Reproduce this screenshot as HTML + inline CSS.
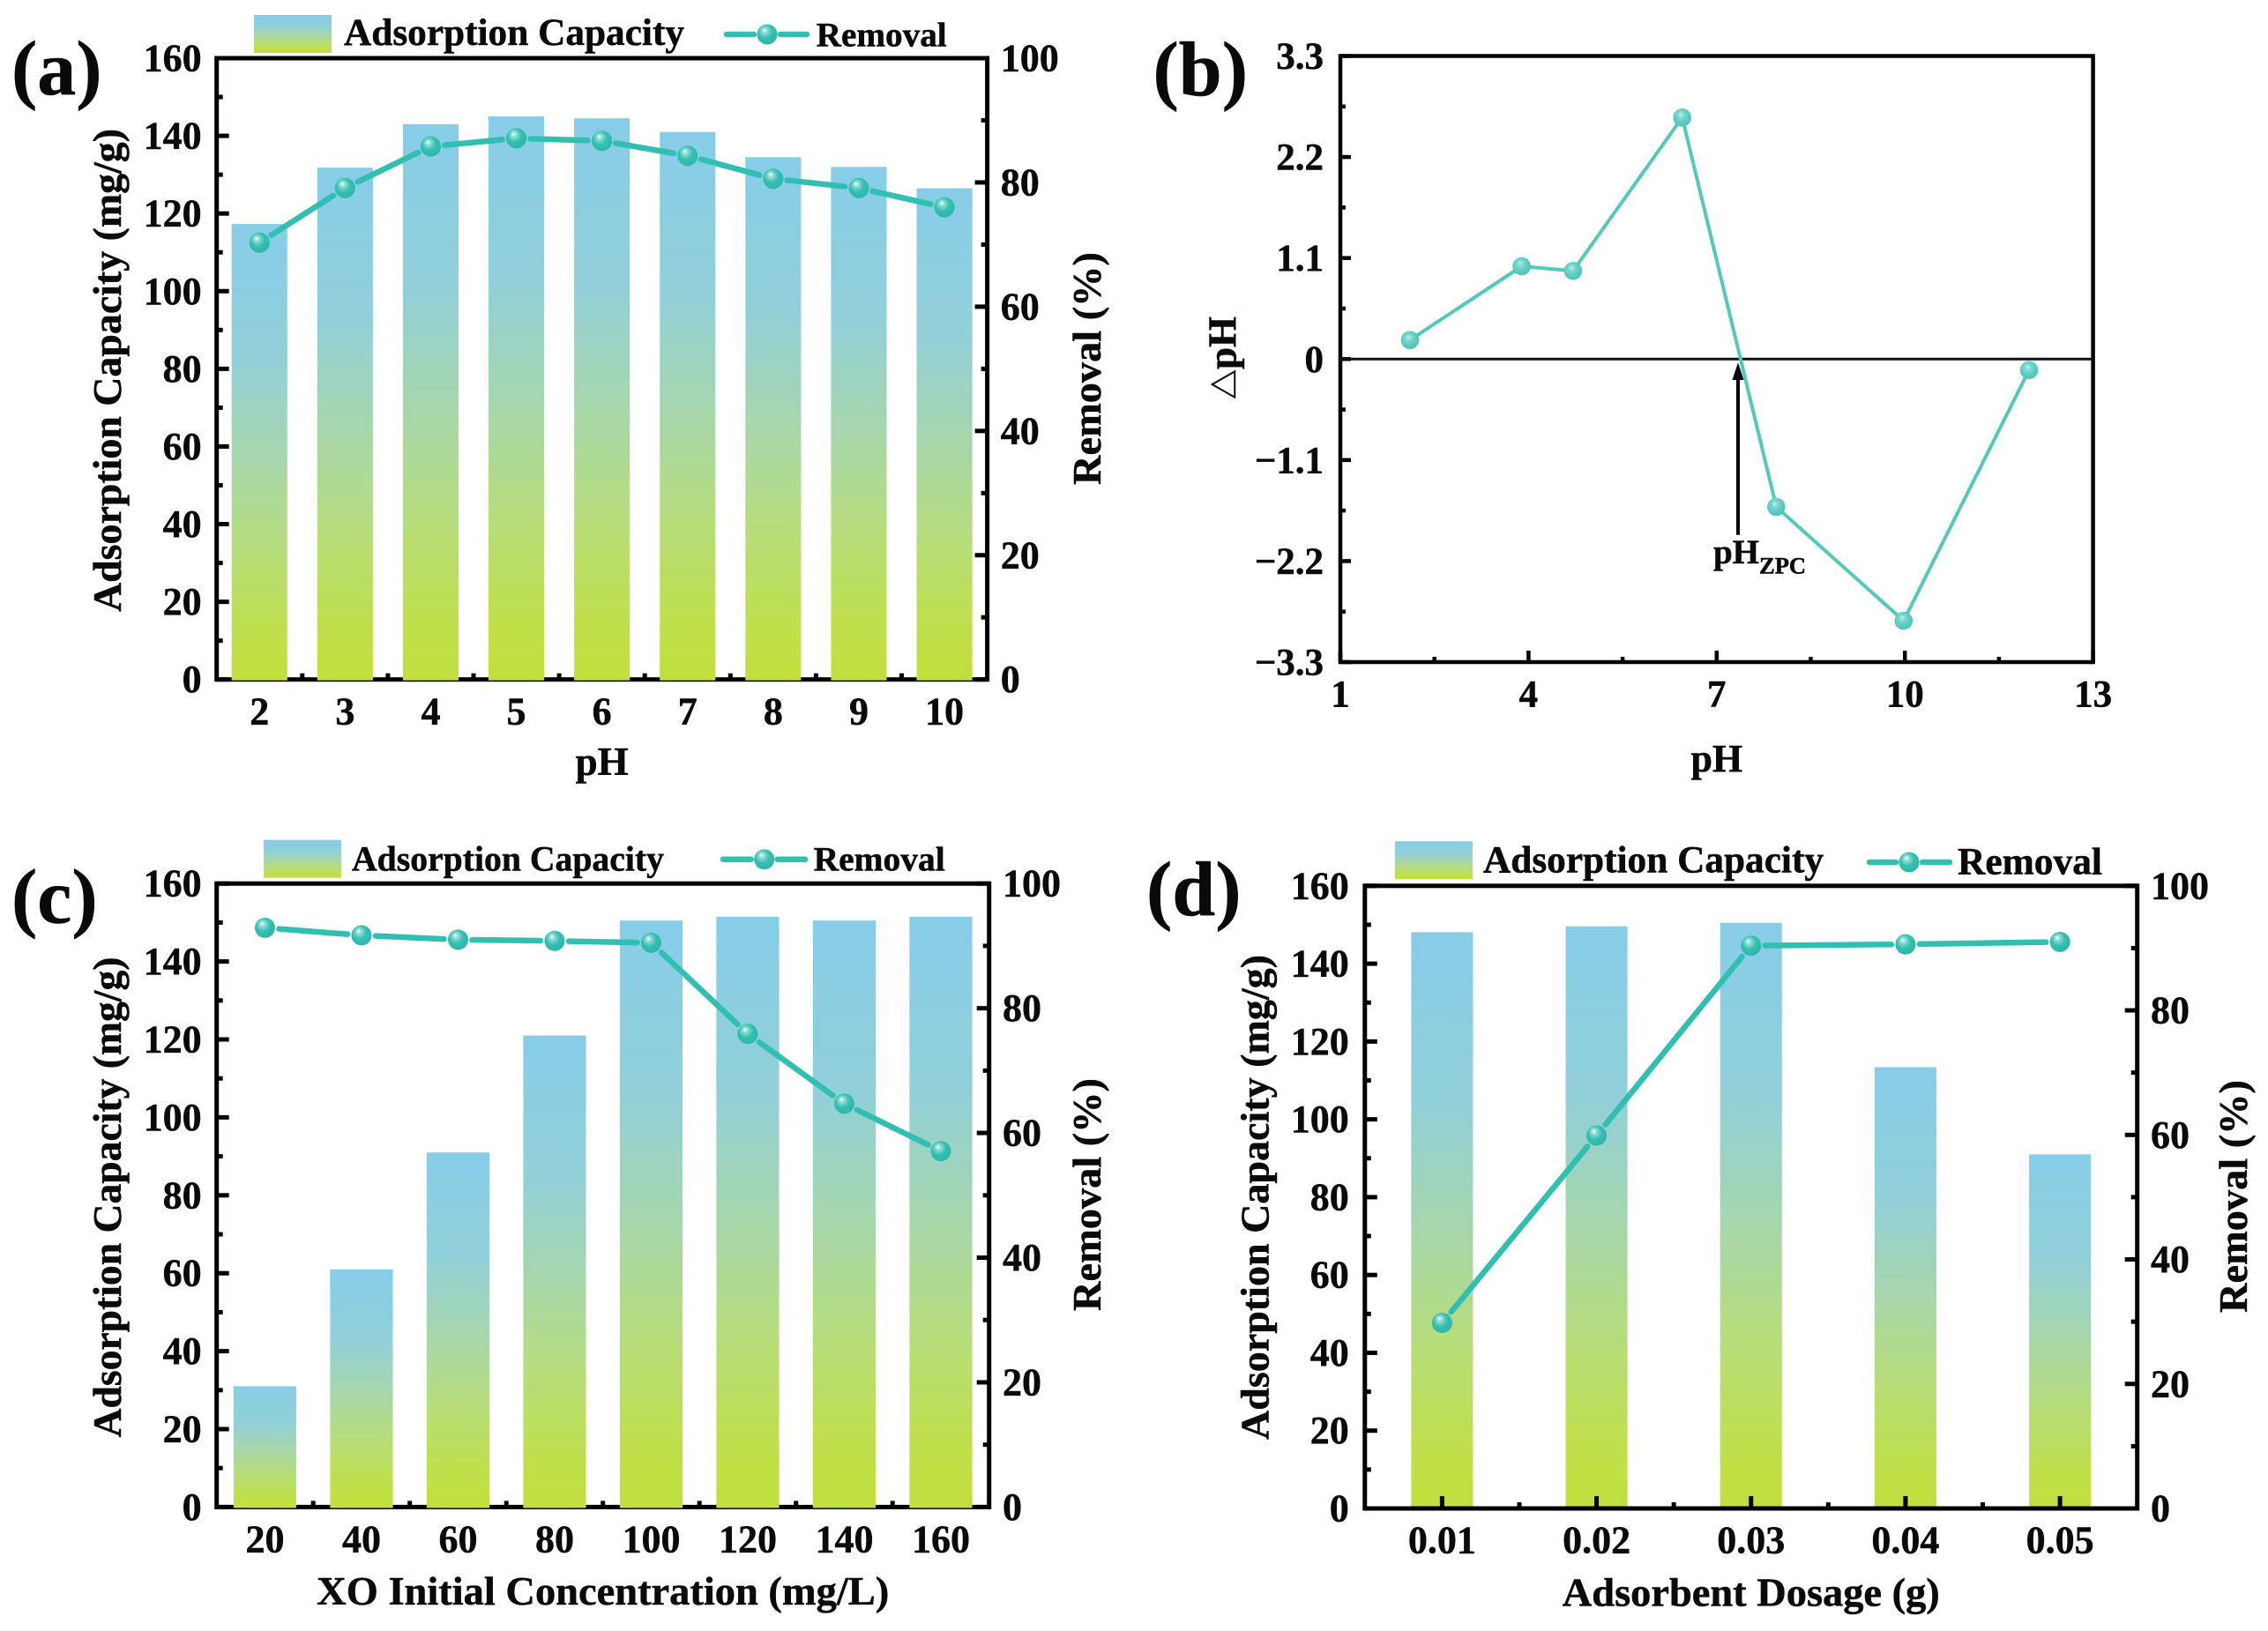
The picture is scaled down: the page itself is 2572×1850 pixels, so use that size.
<!DOCTYPE html>
<html lang="en">
<head>
<meta charset="utf-8">
<title>Adsorption performance panels</title>
<style>
html,body{margin:0;padding:0;background:#fff;}
svg{display:block;}
text{font-family:"Liberation Serif","Noto Sans CJK SC",serif;font-weight:bold;fill:#0a0a0a;stroke:#0a0a0a;stroke-width:0.5px;}
</style>
</head>
<body>
<svg id="figure" xmlns="http://www.w3.org/2000/svg" width="2572" height="1850" viewBox="0 0 2572 1850">
  <defs>
    <linearGradient id="barGrad" x1="0" y1="0" x2="0" y2="1">
      <stop offset="0" stop-color="#87cde9"/>
      <stop offset="0.3" stop-color="#92d0d8"/>
      <stop offset="0.5" stop-color="#a5d6ae"/>
      <stop offset="0.7" stop-color="#b6dd7e"/>
      <stop offset="0.9" stop-color="#bfe04a"/>
      <stop offset="1" stop-color="#c1e03c"/>
    </linearGradient>
    <radialGradient id="ball" cx="0.45" cy="0.42" r="0.62" fx="0.36" fy="0.28">
      <stop offset="0" stop-color="#f4fcfc"/>
      <stop offset="0.22" stop-color="#8adcd3"/>
      <stop offset="0.55" stop-color="#33c0b1"/>
      <stop offset="1" stop-color="#2bb5a8"/>
    </radialGradient>
    <radialGradient id="ballLight" cx="0.45" cy="0.42" r="0.62" fx="0.42" fy="0.32">
      <stop offset="0" stop-color="#c4efe9"/>
      <stop offset="0.3" stop-color="#79d8cd"/>
      <stop offset="0.7" stop-color="#57cabd"/>
      <stop offset="1" stop-color="#4fc4b7"/>
    </radialGradient>
  </defs>
</svg>
<script>
// ---------- shared axis ticks ----------
const capacityTicks = [0, 20, 40, 60, 80, 100, 120, 140, 160];
const removalTicks = [0, 20, 40, 60, 80, 100];

// ---------- panel (a) ----------
const aCategories = ['2', '3', '4', '5', '6', '7', '8', '9', '10'];
const aCapacity = [117.3, 131.8, 143, 145, 144.5, 141, 134.5, 132, 126.5];
const aRemoval = [70.3, 79.1, 85.8, 87.1, 86.7, 84.3, 80.6, 79.1, 76];

// ---------- panel (b) ----------
const bPh = [2.11, 3.89, 4.71, 6.45, 7.95, 9.98, 11.98];
const bDelta = [0.207, 1.01, 0.96, 2.63, -1.61, -2.85, -0.12];
const bXTicks = [1, 4, 7, 10, 13];
const bXLabels = ['1', '4', '7', '10', '13'];
const bYTicks = [3.3, 2.2, 1.1, 0, -1.1, -2.2, -3.3];
const bYLabels = ['3.3', '2.2', '1.1', '0', '\u22121.1', '\u22122.2', '\u22123.3'];
const bZeroChargePh = 7.34;

// ---------- panel (c) ----------
const cCategories = ['20', '40', '60', '80', '100', '120', '140', '160'];
const cCapacity = [31, 61, 91, 121, 150.5, 151.5, 150.5, 151.5];
const cRemoval = [92.9, 91.7, 91, 90.8, 90.5, 75.9, 64.7, 57.1];

// ---------- panel (d) ----------
const dCategories = ['0.01', '0.02', '0.03', '0.04', '0.05'];
const dCapacity = [148.1, 149.6, 150.5, 113.4, 91];
const dRemoval = [29.8, 59.9, 90.4, 90.6, 91];

const NS = 'http://www.w3.org/2000/svg';
const root = document.getElementById('figure');

function make(parent, tag, attrs, content) {
  const el = document.createElementNS(NS, tag);
  for (const k in attrs) el.setAttribute(k, attrs[k]);
  if (content !== undefined) el.textContent = content;
  parent.appendChild(el);
  return el;
}
function textAt(parent, x, y, str, size, anchor, len) {
  const a = { x: x, y: y, 'font-size': size, 'text-anchor': anchor || 'middle' };
  if (len) { a.textLength = len; a.lengthAdjust = 'spacingAndGlyphs'; }
  return make(parent, 'text', a, str);
}
function rotatedText(parent, x, y, str, size, len) {
  const el = textAt(parent, x, y, str, size, 'middle', len);
  el.setAttribute('transform', 'rotate(-90 ' + x + ' ' + y + ')');
  return el;
}
function lineSeg(parent, x1, y1, x2, y2, w, color, cap) {
  return make(parent, 'line', { x1: x1, y1: y1, x2: x2, y2: y2, stroke: color || '#000', 'stroke-width': w, 'stroke-linecap': cap || 'butt' });
}

function drawAxes(g, L, T, R, B, cfg, yCap, yRem, xCenter, n) {
  const frame = make(g, 'rect', { x: L, y: T, width: R - L, height: B - T, fill: 'none', stroke: '#000', 'stroke-width': 5 });
  
  
  capacityTicks.forEach(function (v, i) {
    const y = yCap(v);
    const t = lineSeg(g, L, y, L + 14, y, 5);
    
    
    if (i < capacityTicks.length - 1) {
      const my = yCap((v + capacityTicks[i + 1]) / 2);
      const m = lineSeg(g, L, my, L + 7, my, 5);
      
      
    }
  });
  removalTicks.forEach(function (v, i) {
    const y = yRem(v);
    const t = lineSeg(g, R, y, R - 14, y, 5);
    
    
    if (i < removalTicks.length - 1) {
      const my = yRem((v + removalTicks[i + 1]) / 2);
      const m = lineSeg(g, R, my, R - 7, my, 5);
      
      
    }
  });
  for (let i = 0; i < n; i++) {
    const t = lineSeg(g, xCenter(i), B, xCenter(i), B - 14, 5);
    
    
    if (i < n - 1) {
      const mx = xCenter(i + 0.5);
      const m = lineSeg(g, mx, B, mx, B - 7, 5);
      
      
    }
  }
}

function drawCombo(cfg, categories, capacity, removal) {
  const L = cfg.L, R = cfg.R, T = cfg.T, B = cfg.B;
  const band = (R - L) / categories.length;
  const xCenter = function (i) { return L + band * (i + 0.5); };
  const yCap = function (v) { return B - v / 160 * (B - T); };
  const yRem = function (v) { return B - v / 100 * (B - T); };
  const g = make(root, 'g', {});
  
  

  const label = textAt(g, cfg.labelX, cfg.labelY, '(' + cfg.id + ')', 88, 'start');
  
  

  if (!cfg.axesOnTop) drawAxes(g, L, T, R, B, cfg, yCap, yRem, xCenter, categories.length);

  const barW = band * cfg.barFrac;
  capacity.forEach(function (v, i) {
    const bar = make(g, 'rect', { x: xCenter(i) - barW / 2, y: yCap(v), width: barW, height: yCap(0) - yCap(v) + 1, fill: 'url(#barGrad)' });
    
    
  });

  if (cfg.axesOnTop) drawAxes(g, L, T, R, B, cfg, yCap, yRem, xCenter, categories.length);

  const gap = 16;
  for (let i = 0; i < removal.length - 1; i++) {
    const x1 = xCenter(i), y1 = yRem(removal[i]), x2 = xCenter(i + 1), y2 = yRem(removal[i + 1]);
    const d = Math.hypot(x2 - x1, y2 - y1);
    const ux = (x2 - x1) / d, uy = (y2 - y1) / d;
    const seg = lineSeg(g, x1 + ux * gap, y1 + uy * gap, x2 - ux * gap, y2 - uy * gap, 6.5, '#30bfb0', 'round');
    
    
  }
  removal.forEach(function (v, i) {
    const p = make(g, 'circle', { cx: xCenter(i), cy: yRem(v), r: 11.5, fill: 'url(#ball)' });
    
    
  });

  capacityTicks.forEach(function (v) {
    const t = textAt(g, cfg.leftLabelX, yCap(v) + 14.5, String(v), 44, 'end');
    
    
  });
  removalTicks.forEach(function (v) {
    const t = textAt(g, cfg.rightLabelX, yRem(v) + 14.5, String(v), 44, 'start');
    
    
  });
  categories.forEach(function (c, i) {
    const t = textAt(g, xCenter(i), cfg.xLabelY, c, 44, 'middle');
    
    
  });

  const xt = textAt(g, (L + R) / 2, cfg.xTitleY, cfg.xTitle, 45, 'middle', cfg.xTitleLen);
  
  
  const ct = rotatedText(g, cfg.capTitleX, cfg.capTitleY, 'Adsorption Capacity (mg/g)', 45, cfg.capTitleLen);
  
  
  const rt = rotatedText(g, cfg.remTitleX, cfg.remTitleY, 'Removal (%)', 45, 264);
  
  

  const lg = cfg.legend;
  const lgG = make(g, 'g', {});
  
  
  const sw = make(lgG, 'rect', { x: lg.sx, y: lg.sy, width: 88, height: 43, fill: 'url(#barGrad)' });
  
  
  const st = textAt(lgG, lg.tx, lg.ty, 'Adsorption Capacity', lg.tSize, 'start', lg.tLen);
  
  
  const l1 = lineSeg(lgG, lg.lx1, lg.ly, lg.mx - 15, lg.ly, 6.5, '#30bfb0', 'round');
  
  
  const l2 = lineSeg(lgG, lg.mx + 15, lg.ly, lg.lx2, lg.ly, 6.5, '#30bfb0', 'round');
  
  
  const lm = make(lgG, 'circle', { cx: lg.mx, cy: lg.ly, r: 11.5, fill: 'url(#ball)' });
  
  
  const rl = textAt(lgG, lg.rx, lg.ry, 'Removal', lg.rSize, 'start', lg.rLen);
  
  
}

function drawPanelB() {
  const L = 1520, R = 2373.6, T = 63.5, B = 751;
  const x = function (v) { return L + (v - 1) / 12 * (R - L); };
  const y = function (v) { return T + (3.3 - v) / 6.6 * (B - T); };
  const g = make(root, 'g', {});
  
  

  const label = textAt(g, 1307.5, 108, '(b)', 88, 'start');
  
  

  const frame = make(g, 'rect', { x: L, y: T, width: R - L, height: B - T, fill: 'none', stroke: '#000', 'stroke-width': 4.5 });
  
  

  bYTicks.forEach(function (v, i) {
    const t = lineSeg(g, L, y(v), L + 12, y(v), 4.5);
    
    
    const lab = textAt(g, 1501, y(v) + 14.5, bYLabels[i], 43, 'end');
    
    
    if (i < bYTicks.length - 1) {
      const mv = (v + bYTicks[i + 1]) / 2;
      const m = lineSeg(g, L, y(mv), L + 6, y(mv), 4.5);
      
      
    }
  });
  bXTicks.forEach(function (v, i) {
    const t = lineSeg(g, x(v), B, x(v), B - 13, 4.5);
    
    
    const lab = textAt(g, x(v), 801.7, bXLabels[i], 43, 'middle');
    
    
    if (i < bXTicks.length - 1) {
      const mv = (v + bXTicks[i + 1]) / 2;
      const m = lineSeg(g, x(mv), B, x(mv), B - 6, 4.5);
      
      
    }
  });

  const zero = lineSeg(g, L, y(0), R, y(0), 3, '#111');
  
  

  const arrowX = x(bZeroChargePh);
  const shaft = lineSeg(g, arrowX, 606.7, arrowX, 428, 4, '#000');
  
  
  const head = make(g, 'polygon', { points: arrowX + ',' + (y(0) + 4) + ' ' + (arrowX - 6.5) + ',431 ' + (arrowX + 6.5) + ',431', fill: '#000' });
  
  

  const pts = bPh.map(function (v, i) { return x(v) + ',' + y(bDelta[i]); }).join(' ');
  const line = make(g, 'polyline', { points: pts, fill: 'none', stroke: '#52c9ba', 'stroke-width': 4 });
  
  
  bPh.forEach(function (v, i) {
    const p = make(g, 'circle', { cx: x(v), cy: y(bDelta[i]), r: 10.3, fill: 'url(#ballLight)' });
    
    
  });

  const zpc = make(g, 'text', { x: arrowX - 28, y: 639, 'font-size': 39 });
  
  
  make(zpc, 'tspan', {}, 'pH');
  make(zpc, 'tspan', { 'font-size': 26, dy: 11.7, textLength: 53, lengthAdjust: 'spacingAndGlyphs' }, 'ZPC');

  const xt = textAt(g, (L + R) / 2 + 0, 875, 'pH', 44, 'middle');
  
  

  const yt = make(g, 'text', { x: 1401.6, y: 406, 'font-size': 45, 'text-anchor': 'middle', transform: 'rotate(-90 1401.6 406)' });
  
  
  make(yt, 'tspan', { 'font-size': 34 }, '\u25B3');
  make(yt, 'tspan', {}, 'pH');
}

drawCombo({
  id: 'a', L: 245.7, R: 1119.6, T: 66, B: 770.7, barFrac: 0.65, axesOnTop: false,
  labelX: 13, labelY: 107, leftLabelX: 228.6, rightLabelX: 1134.7, xLabelY: 821.7,
  xTitle: 'pH', xTitleY: 879, capTitleX: 137, capTitleY: 420, capTitleLen: 548,
  remTitleX: 1248, remTitleY: 418,
  legend: { sx: 288, sy: 17, tx: 390, ty: 51, tSize: 43, tLen: 386, lx1: 824, lx2: 915, ly: 39, mx: 870, rx: 925.7, ry: 52.7, rSize: 39, rLen: 148 }
}, aCategories, aCapacity, aRemoval);

drawPanelB();

drawCombo({
  id: 'c', L: 245.7, R: 1121.7, T: 1002.2, B: 1709.4, barFrac: 0.65, axesOnTop: false,
  labelX: 13, labelY: 1046.7, leftLabelX: 228.6, rightLabelX: 1137, xLabelY: 1760.3,
  xTitle: 'XO Initial Concentration (mg/L)', xTitleY: 1820, xTitleLen: 649,
  capTitleX: 137, capTitleY: 1358, capTitleLen: 545,
  remTitleX: 1248, remTitleY: 1355,
  legend: { sx: 299, sy: 952.7, tx: 399, ty: 987.3, tSize: 40, tLen: 354, lx1: 820, lx2: 913, ly: 974.7, mx: 866.7, rx: 922.7, ry: 987.7, rSize: 39, rLen: 149 }
}, cCategories, cCapacity, cRemoval);

drawCombo({
  id: 'd', L: 1547.8, R: 2423.7, T: 1004.8, B: 1711, barFrac: 0.4, axesOnTop: true,
  labelX: 1300, labelY: 1038, leftLabelX: 1529.8, rightLabelX: 2439, xLabelY: 1761.7,
  xTitle: 'Adsorbent Dosage (g)', xTitleY: 1821.7, xTitleLen: 428,
  capTitleX: 1438.4, capTitleY: 1358, capTitleLen: 550,
  remTitleX: 2548, remTitleY: 1357,
  legend: { sx: 1582, sy: 954.3, tx: 1682, ty: 989.3, tSize: 43, tLen: 386, lx1: 2120, lx2: 2211, ly: 978, mx: 2165, rx: 2220, ry: 991.7, rSize: 43, rLen: 164 }
}, dCategories, dCapacity, dRemoval);
</script>
</body>
</html>
